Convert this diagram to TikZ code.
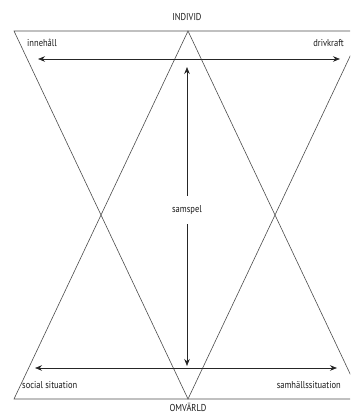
\documentclass[tikz,border=0pt]{standalone}
\usepackage{fontspec}
\setmainfont[FakeStretch=0.85]{PT Sans}
\usetikzlibrary{arrows.meta}
\begin{document}
\begin{tikzpicture}[x=1pt,y=-1pt,
  edge/.style={draw=black!70, line width=0.6pt},
  arr/.style={draw=black!85, line width=0.7pt, {Stealth[length=7pt,width=5.5pt]}-{Stealth[length=7pt,width=5.5pt]}},
  lbl/.style={font=\fontsize{10}{11}\selectfont, inner sep=1pt, text=black!90}]
\useasboundingbox (0,0) rectangle (350,414);
\clip (0,0) rectangle (350,414);
\coordinate (TL) at (14,31);
\coordinate (TC) at (188,31);
\coordinate (TR) at (362,31);
\coordinate (BL) at (14,399);
\coordinate (BC) at (188,399);
\coordinate (BR) at (362,399);
\draw[edge] (TL) -- (TR) -- (BC) -- cycle;
\draw[edge] (BL) -- (BR) -- (TC) -- cycle;
\coordinate (a1) at (38,59);
\coordinate (a2) at (340,59);
\coordinate (b1) at (35,368);
\coordinate (b2) at (337,368);
\coordinate (v1) at (187,67);
\coordinate (v2) at (187,366);
\draw[arr] (a1) -- (a2);
\draw[arr] (b1) -- (b2);
\draw[arr] (v1) -- (v2);
\node[lbl, fill=white, minimum height=28pt] (samspel) at (187,210) {samspel};
\node[lbl] (individ) at (187,17) {INDIVID};
\node[lbl] (omvarld) at (188,407) {OMVÄRLD};
\node[lbl, anchor=west] (innehall) at (26,43) {innehåll};
\node[lbl, anchor=east] (drivkraft) at (345,43) {drivkraft};
\node[lbl, anchor=west] (social) at (21,385) {social situation};
\node[lbl, anchor=east] (samhall) at (342,385) {samhällssituation};
\end{tikzpicture}
\end{document}
